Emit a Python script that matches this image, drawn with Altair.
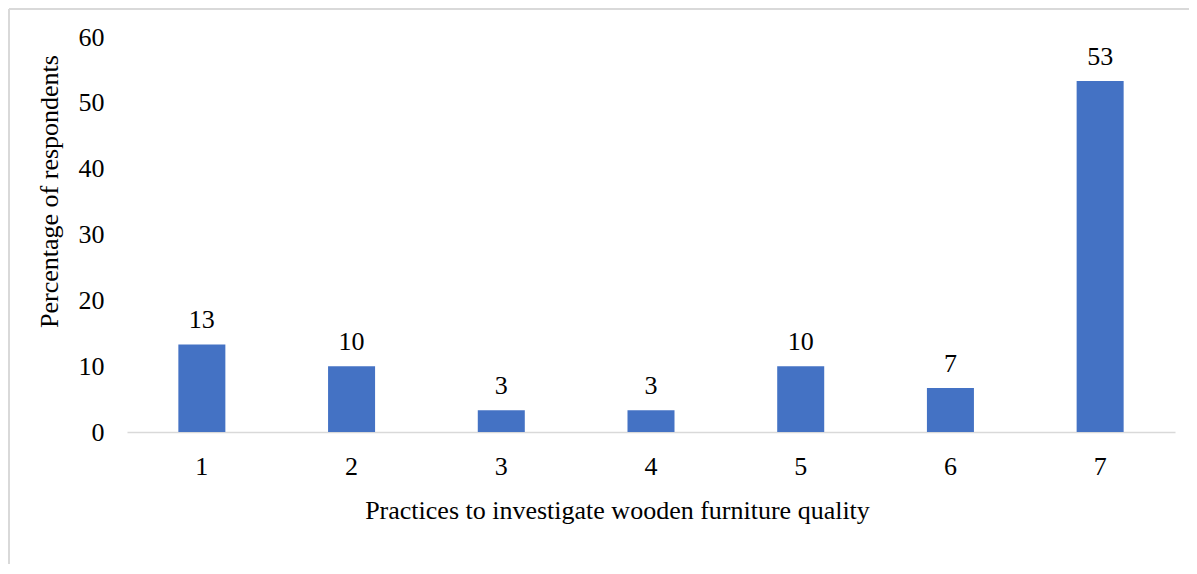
import altair as alt
import pandas as pd

categories = ["1", "2", "3", "4", "5", "6", "7"]
values = [13.3, 10.0, 3.3, 3.3, 10.0, 6.7, 53.3]
labels = ["13", "10", "3", "3", "10", "7", "53"]

df = pd.DataFrame({"practice": categories, "pct": values, "label": labels})

FONT = "Liberation Serif"
FS = 26

base = alt.Chart(df).encode(
    x=alt.X(
        "practice:N",
        sort=categories,
        scale=alt.Scale(paddingInner=0.686, paddingOuter=0.343),
        axis=alt.Axis(
            title="Practices to investigate wooden furniture quality",
            labelAngle=0,
            ticks=False,
            domainColor="#d9d9d9",
            domainWidth=1.5,
            labelPadding=21,
            labelColor="black",
            labelFont=FONT,
            labelFontSize=FS,
            titleFont=FONT,
            titleFontSize=FS,
            titleFontWeight="normal",
            titleColor="black",
            titleX=490,
            titleY=78,
            titleBaseline="middle",
        ),
    ),
    y=alt.Y(
        "pct:Q",
        scale=alt.Scale(domain=[0, 60]),
        axis=alt.Axis(
            title="Percentage of respondents",
            values=[0, 10, 20, 30, 40, 50, 60],
            grid=False,
            domain=False,
            ticks=False,
            labelPadding=23,
            labelColor="black",
            labelFont=FONT,
            labelFontSize=FS,
            titleFont=FONT,
            titleFontSize=FS,
            titleFontWeight="normal",
            titleColor="black",
            titleX=-78,
            titleY=154,
            titleBaseline="middle",
        ),
    ),
)

bars = base.mark_bar(color="#4472C4")
text = base.mark_text(dy=-24, baseline="middle", font=FONT, fontSize=FS, color="black").encode(
    text="label:N"
)

frame = pd.DataFrame({"a": [0]})
border_top = alt.Chart(frame).mark_rule(color="#d9d9d9", strokeWidth=2).encode(
    x=alt.value(-118), x2=alt.value(1100), y=alt.value(-28)
)
border_left = alt.Chart(frame).mark_rule(color="#d9d9d9", strokeWidth=2).encode(
    x=alt.value(-118), y=alt.value(-28), y2=alt.value(600)
)

chart = (
    alt.layer(border_top, border_left, bars, text)
    .properties(
        width=1048,
        height=395,
        padding={"left": 119, "top": 29, "right": 14, "bottom": 132},
        autosize=alt.AutoSizeParams(type="none"),
        view=alt.ViewBackground(strokeWidth=0, strokeOpacity=0),
    )
    .configure_view(strokeWidth=0, strokeOpacity=0)
    .configure(background="white")
)

chart.save("out.html", embed_options={"renderer": "svg", "actions": False})
